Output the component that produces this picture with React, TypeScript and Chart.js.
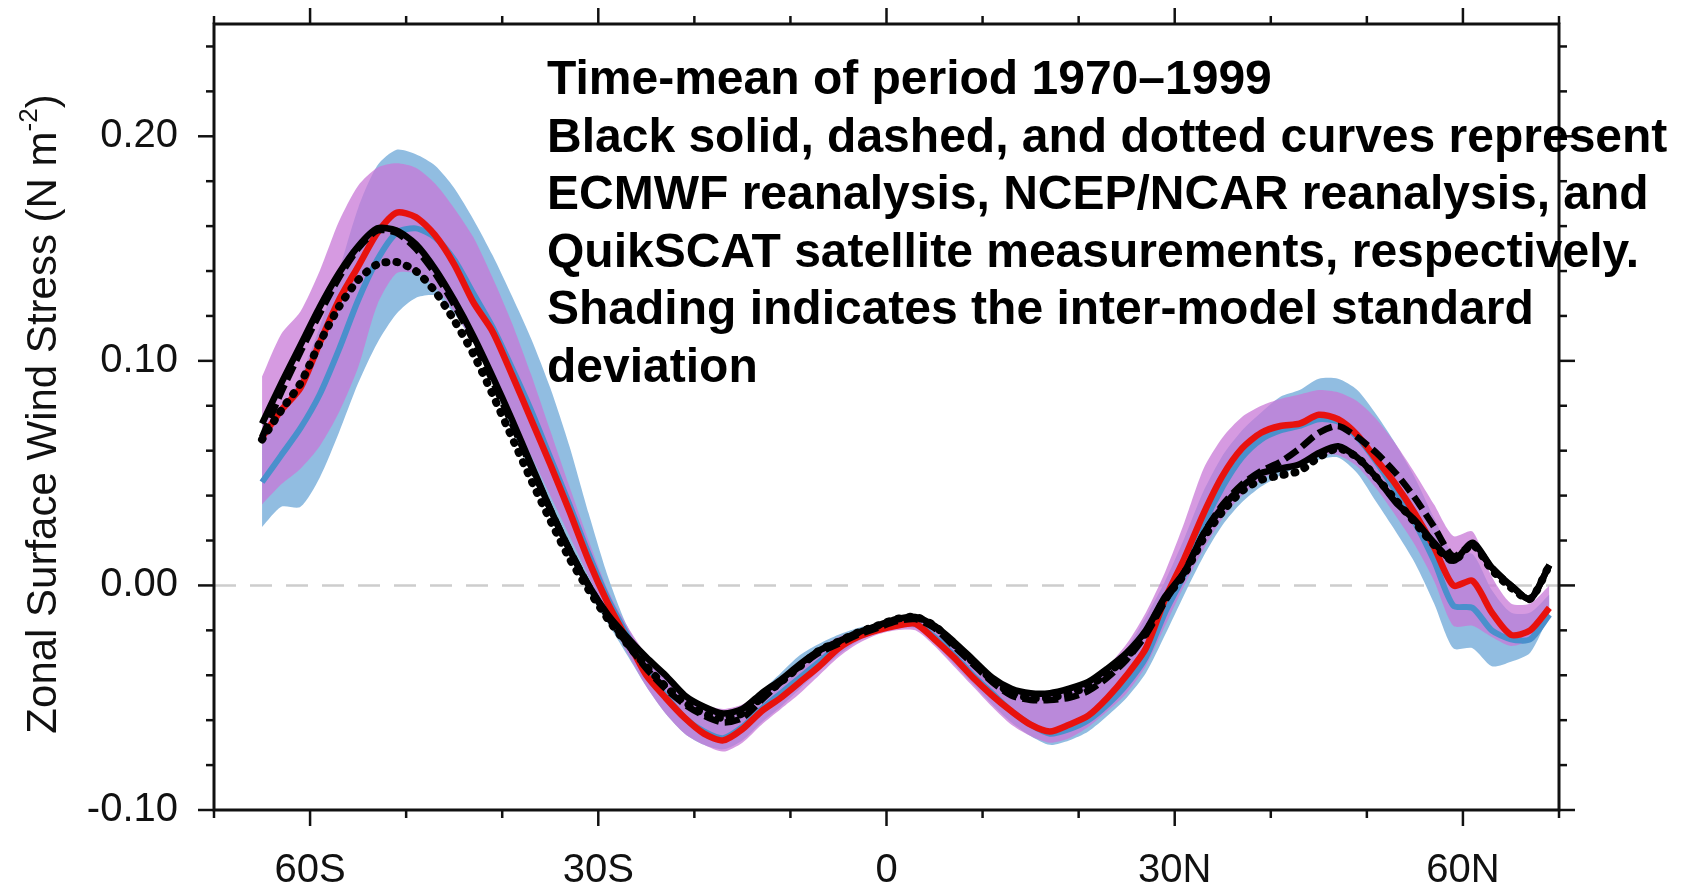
import React, { useEffect, useRef } from 'react';
import { Chart, registerables } from 'chart.js';

Chart.register(...registerables);

// Latitude grid (degrees; negative = south)
const LAT = [
  -65, -63, -61, -59, -57, -55, -53, -51, -49, -47, -45, -43, -41, -39, -37, -35, -33,
  -31, -29, -27, -25, -23, -21, -19, -17, -15, -13, -11, -9, -7, -5, -3, -1,
  1, 3, 5, 7, 9, 11, 13, 15, 17, 19, 21, 23, 25, 27, 29, 31,
  33, 35, 37, 39, 41, 43, 45, 47, 49, 51, 53, 55, 57, 59, 61, 63, 65, 67, 69,
];

// Model ensemble mean (red)
const RED = [
  0.066, 0.078, 0.088, 0.108, 0.127, 0.142, 0.157, 0.166, 0.164, 0.156, 0.143, 0.126, 0.113, 0.094, 0.074, 0.054, 0.033,
  0.011, -0.008, -0.024, -0.040, -0.050, -0.059, -0.066, -0.069, -0.064, -0.056, -0.050, -0.043, -0.036, -0.028, -0.023, -0.020,
  -0.018, -0.017, -0.024, -0.032, -0.041, -0.049, -0.056, -0.062, -0.065, -0.062, -0.058, -0.050, -0.040, -0.028, -0.006, 0.012,
  0.032, 0.049, 0.061, 0.068, 0.071, 0.072, 0.076, 0.074, 0.067, 0.056, 0.045, 0.032, 0.017, 0.000, 0.002, -0.012, -0.022, -0.020, -0.010,
];

// Model ensemble mean (blue)
const BLUE = [
  0.046, 0.058, 0.070, 0.085, 0.105, 0.127, 0.145, 0.157, 0.159, 0.155, 0.145, 0.130, 0.115, 0.097, 0.078, 0.057, 0.036,
  0.014, -0.006, -0.022, -0.038, -0.049, -0.059, -0.065, -0.068, -0.063, -0.055, -0.048, -0.041, -0.034, -0.027, -0.022, -0.019,
  -0.017, -0.017, -0.023, -0.031, -0.040, -0.048, -0.056, -0.062, -0.066, -0.064, -0.060, -0.053, -0.044, -0.032, -0.012, 0.005,
  0.027, 0.044, 0.057, 0.065, 0.069, 0.071, 0.074, 0.073, 0.066, 0.055, 0.042, 0.028, 0.011, -0.009, -0.010, -0.020, -0.024, -0.024, -0.013,
];

// Blue ensemble +/- one standard deviation
const BLUE_HI = [
  0.065, 0.078, 0.093, 0.115, 0.140, 0.168, 0.187, 0.194, 0.192, 0.187, 0.177, 0.163, 0.147, 0.129, 0.110, 0.088, 0.062,
  0.032, 0.004, -0.018, -0.032, -0.042, -0.049, -0.054, -0.056, -0.054, -0.047, -0.039, -0.031, -0.026, -0.022, -0.019, -0.017,
  -0.015, -0.014, -0.018, -0.024, -0.032, -0.040, -0.046, -0.048, -0.049, -0.047, -0.044, -0.037, -0.028, -0.014, 0.002, 0.021,
  0.042, 0.058, 0.069, 0.077, 0.084, 0.087, 0.092, 0.092, 0.087, 0.076, 0.063, 0.048, 0.030, 0.014, 0.014, -0.002, -0.012, -0.012, -0.004,
];
const BLUE_LO = [
  0.026, 0.035, 0.035, 0.048, 0.068, 0.090, 0.108, 0.121, 0.128, 0.129, 0.121, 0.108, 0.090, 0.070, 0.050, 0.031, 0.013,
  -0.003, -0.017, -0.031, -0.045, -0.057, -0.066, -0.071, -0.073, -0.069, -0.061, -0.054, -0.046, -0.038, -0.031, -0.025, -0.021,
  -0.019, -0.019, -0.026, -0.035, -0.044, -0.053, -0.061, -0.067, -0.071, -0.069, -0.065, -0.058, -0.050, -0.039, -0.022, -0.004,
  0.013, 0.027, 0.037, 0.044, 0.049, 0.053, 0.056, 0.057, 0.050, 0.037, 0.024, 0.010, -0.008, -0.028, -0.028, -0.036, -0.034, -0.030, -0.013,
];

// Red ensemble +/- one standard deviation (purple shading)
const PURPLE_HI = [
  0.093, 0.112, 0.122, 0.140, 0.162, 0.178, 0.186, 0.188, 0.186, 0.179, 0.168, 0.155, 0.137, 0.117, 0.094, 0.069, 0.044,
  0.020, -0.002, -0.018, -0.031, -0.041, -0.048, -0.053, -0.055, -0.053, -0.047, -0.041, -0.034, -0.028, -0.023, -0.020, -0.017,
  -0.015, -0.014, -0.018, -0.024, -0.032, -0.040, -0.045, -0.047, -0.048, -0.046, -0.043, -0.036, -0.026, -0.012, 0.006, 0.028,
  0.052, 0.066, 0.075, 0.080, 0.083, 0.085, 0.087, 0.086, 0.082, 0.074, 0.063, 0.050, 0.036, 0.022, 0.024, 0.004, -0.008, -0.008, 0.000,
];
const PURPLE_LO = [
  0.036, 0.045, 0.052, 0.062, 0.077, 0.097, 0.125, 0.139, 0.139, 0.133, 0.122, 0.108, 0.092, 0.075, 0.058, 0.040, 0.022,
  0.004, -0.014, -0.030, -0.045, -0.057, -0.066, -0.071, -0.074, -0.070, -0.062, -0.055, -0.048, -0.040, -0.032, -0.026, -0.022,
  -0.020, -0.020, -0.027, -0.036, -0.045, -0.054, -0.062, -0.067, -0.070, -0.068, -0.063, -0.056, -0.048, -0.036, -0.018, 0.000,
  0.016, 0.030, 0.040, 0.047, 0.052, 0.055, 0.058, 0.058, 0.053, 0.043, 0.031, 0.018, 0.002, -0.018, -0.018, -0.023, -0.027, -0.024, -0.011,
];

// Observations
const ECMWF = [
  0.072, 0.090, 0.107, 0.124, 0.139, 0.151, 0.159, 0.158, 0.152, 0.141, 0.127, 0.111, 0.093, 0.074, 0.054, 0.034, 0.016,
  0.000, -0.013, -0.023, -0.032, -0.040, -0.049, -0.054, -0.057, -0.055, -0.048, -0.042, -0.035, -0.029, -0.025, -0.021, -0.018,
  -0.015, -0.014, -0.018, -0.025, -0.033, -0.041, -0.046, -0.048, -0.048, -0.046, -0.043, -0.037, -0.030, -0.020, -0.005, 0.006,
  0.023, 0.035, 0.044, 0.050, 0.052, 0.054, 0.059, 0.062, 0.057, 0.048, 0.037, 0.029, 0.019, 0.011, 0.019, 0.008, 0.000, -0.006, 0.009,
];
const NCEP = [
  0.066, 0.086, 0.104, 0.121, 0.137, 0.150, 0.158, 0.157, 0.150, 0.139, 0.125, 0.109, 0.091, 0.072, 0.053, 0.034, 0.016,
  0.000, -0.014, -0.026, -0.037, -0.046, -0.053, -0.058, -0.061, -0.059, -0.051, -0.043, -0.036, -0.030, -0.026, -0.022, -0.019,
  -0.016, -0.015, -0.019, -0.027, -0.035, -0.043, -0.049, -0.051, -0.051, -0.050, -0.047, -0.041, -0.033, -0.022, -0.007, 0.006,
  0.023, 0.036, 0.045, 0.051, 0.055, 0.061, 0.068, 0.071, 0.066, 0.059, 0.050, 0.039, 0.026, 0.013, 0.018, 0.008, 0.000, -0.006, 0.009,
];
const QUIKSCAT = [
  0.065, 0.078, 0.090, 0.108, 0.124, 0.136, 0.143, 0.144, 0.140, 0.131, 0.118, 0.103, 0.085, 0.066, 0.047, 0.029, 0.012,
  -0.002, -0.015, -0.026, -0.036, -0.045, -0.052, -0.057, -0.059, -0.057, -0.050, -0.043, -0.036, -0.029, -0.025, -0.021, -0.018,
  -0.015, -0.014, -0.018, -0.026, -0.034, -0.042, -0.048, -0.050, -0.050, -0.048, -0.045, -0.039, -0.032, -0.021, -0.006, 0.005,
  0.021, 0.033, 0.042, 0.047, 0.049, 0.051, 0.057, 0.061, 0.057, 0.048, 0.038, 0.028, 0.018, 0.011, 0.018, 0.007, -0.001, -0.006, 0.009,
];

// Zero reference line
const ZERO_X = [-70, 70];
const ZERO_Y = [0, 0];

// Axes
const X_MAJOR = [-60, -30, 0, 30, 60];
const X_LABELS = ['60S', '30S', '0', '30N', '60N'];
const X_MINOR = [-70, -50, -40, -20, -10, 10, 20, 40, 50, 70];
const Y_MAJOR = [-0.1, 0, 0.1, 0.2];
const Y_LABELS = ['-0.10', '0.00', '0.10', '0.20'];
const Y_MINOR = [-0.08, -0.06, -0.04, -0.02, 0.02, 0.04, 0.06, 0.08, 0.12, 0.14, 0.16, 0.18, 0.22, 0.24];

const Y_TITLE = 'Zonal Surface Wind Stress (N m';
const Y_TITLE_SUP = '-2';
const Y_TITLE_END = ')';

const NOTE_LINES = [
  'Time-mean of period 1970\u20131999',
  'Black solid, dashed, and dotted curves represent',
  'ECMWF reanalysis, NCEP/NCAR reanalysis, and',
  'QuikSCAT satellite measurements, respectively.',
  'Shading indicates the inter-model standard',
  'deviation',
];

const FONT = '"Liberation Sans", Arial, Helvetica, sans-serif';

const axesPlugin = {
  id: 'ncarAxes',
  afterDraw(chart: any) {
    const { ctx, chartArea: a, scales } = chart;
    const xs = scales.x;
    const ys = scales.y;
    ctx.save();
    ctx.strokeStyle = '#111';
    ctx.lineCap = 'butt';
    const seg = (x1: number, y1: number, x2: number, y2: number) => {
      ctx.beginPath();
      ctx.moveTo(x1, y1);
      ctx.lineTo(x2, y2);
      ctx.stroke();
    };
    ctx.lineWidth = 2.5;
    const MAJ = 16;
    const MIN = 8;
    X_MAJOR.forEach((v) => {
      const p = xs.getPixelForValue(v);
      seg(p, a.bottom, p, a.bottom + MAJ);
      seg(p, a.top, p, a.top - MAJ);
    });
    X_MINOR.forEach((v) => {
      const p = xs.getPixelForValue(v);
      seg(p, a.bottom, p, a.bottom + MIN);
      seg(p, a.top, p, a.top - MIN);
    });
    Y_MAJOR.forEach((v) => {
      const p = ys.getPixelForValue(v);
      seg(a.left, p, a.left - MAJ, p);
      seg(a.right, p, a.right + MAJ, p);
    });
    Y_MINOR.forEach((v) => {
      const p = ys.getPixelForValue(v);
      seg(a.left, p, a.left - MIN, p);
      seg(a.right, p, a.right + MIN, p);
    });
    ctx.lineWidth = 3;
    ctx.strokeRect(a.left, a.top, a.right - a.left, a.bottom - a.top);

    // tick labels
    ctx.fillStyle = '#111';
    ctx.font = `40px ${FONT}`;
    ctx.textAlign = 'center';
    ctx.textBaseline = 'middle';
    X_MAJOR.forEach((v, i) => {
      ctx.fillText(X_LABELS[i], xs.getPixelForValue(v), a.bottom + 61);
    });
    ctx.textAlign = 'right';
    Y_MAJOR.forEach((v, i) => {
      ctx.fillText(Y_LABELS[i], a.left - 36, ys.getPixelForValue(v));
    });

    // y-axis title with superscript
    ctx.save();
    const cy = (a.top + a.bottom) / 2;
    ctx.translate(44, cy - 3);
    ctx.rotate(-Math.PI / 2);
    ctx.textAlign = 'left';
    ctx.textBaseline = 'middle';
    const mainFont = `42px ${FONT}`;
    const supFont = `26px ${FONT}`;
    ctx.font = mainFont;
    const w1 = ctx.measureText(Y_TITLE).width;
    const w3 = ctx.measureText(Y_TITLE_END).width;
    ctx.font = supFont;
    const w2 = ctx.measureText(Y_TITLE_SUP).width;
    let x0 = -(w1 + w2 + w3) / 2;
    ctx.font = mainFont;
    ctx.fillText(Y_TITLE, x0, 0);
    x0 += w1;
    ctx.font = supFont;
    ctx.fillText(Y_TITLE_SUP, x0, -14);
    x0 += w2;
    ctx.font = mainFont;
    ctx.fillText(Y_TITLE_END, x0, 0);
    ctx.restore();

    // annotation
    ctx.font = `bold 48px ${FONT}`;
    ctx.textAlign = 'left';
    ctx.textBaseline = 'alphabetic';
    ctx.fillStyle = '#000';
    NOTE_LINES.forEach((s, i) => ctx.fillText(s, 547, 94 + i * 57.5));
    ctx.restore();
  },
};

const pts = (ys: number[]) => LAT.map((x, i) => ({ x, y: ys[i] }));

export default function App() {
  const ref = useRef<HTMLCanvasElement>(null);
  useEffect(() => {
    document.body.style.margin = '0';
    const canvas = ref.current;
    if (!canvas) return;
    const chart = new Chart(canvas, {
      type: 'line',
      data: {
        datasets: [
          { label: 'ECMWF', data: pts(ECMWF), borderColor: '#000', borderWidth: 6.5, order: 0, fill: false },
          { label: 'NCEP/NCAR', data: pts(NCEP), borderColor: '#000', borderWidth: 6.5, borderDash: [15, 6], order: 1, fill: false },
          { label: 'QuikSCAT', data: pts(QUIKSCAT), borderColor: '#000', borderWidth: 8, borderDash: [1, 10], borderCapStyle: 'round', order: 2, fill: false },
          { label: 'Red mean', data: pts(RED), borderColor: 'rgb(232,18,14)', borderWidth: 6.5, order: 3, fill: false },
          { label: 'Blue mean', data: pts(BLUE), borderColor: 'rgb(74,144,204)', borderWidth: 6, order: 4, fill: false },
          { label: 'Purple low', data: pts(PURPLE_LO), borderWidth: 0, borderColor: 'rgba(0,0,0,0)', order: 5, fill: false },
          { label: 'Purple high', data: pts(PURPLE_HI), borderWidth: 0, borderColor: 'rgba(0,0,0,0)', backgroundColor: 'rgba(200,120,215,0.75)', order: 6, fill: 5 },
          { label: 'Blue low', data: pts(BLUE_LO), borderWidth: 0, borderColor: 'rgba(0,0,0,0)', order: 7, fill: false },
          { label: 'Blue high', data: pts(BLUE_HI), borderWidth: 0, borderColor: 'rgba(0,0,0,0)', backgroundColor: 'rgb(145,189,225)', order: 8, fill: 7 },
          { label: 'Zero', data: ZERO_X.map((x, i) => ({ x, y: ZERO_Y[i] })), borderColor: 'rgb(205,205,205)', borderWidth: 2.5, borderDash: [22, 14], order: 9, fill: false, tension: 0 },
        ],
      },
      options: {
        responsive: false,
        animation: false,
        events: [],
        layout: { padding: { left: 214, right: 123, top: 24, bottom: 77 } },
        elements: { point: { radius: 0 }, line: { tension: 0.25 } },
        scales: {
          x: { type: 'linear', min: -70, max: 70, display: false },
          y: { type: 'linear', min: -0.1, max: 0.25, display: false },
        },
        plugins: { legend: { display: false }, tooltip: { enabled: false } },
      },
      plugins: [axesPlugin],
    } as any);
    return () => chart.destroy();
  }, []);
  return <canvas ref={ref} width={1682} height={887} style={{ display: 'block' }} />;
}
